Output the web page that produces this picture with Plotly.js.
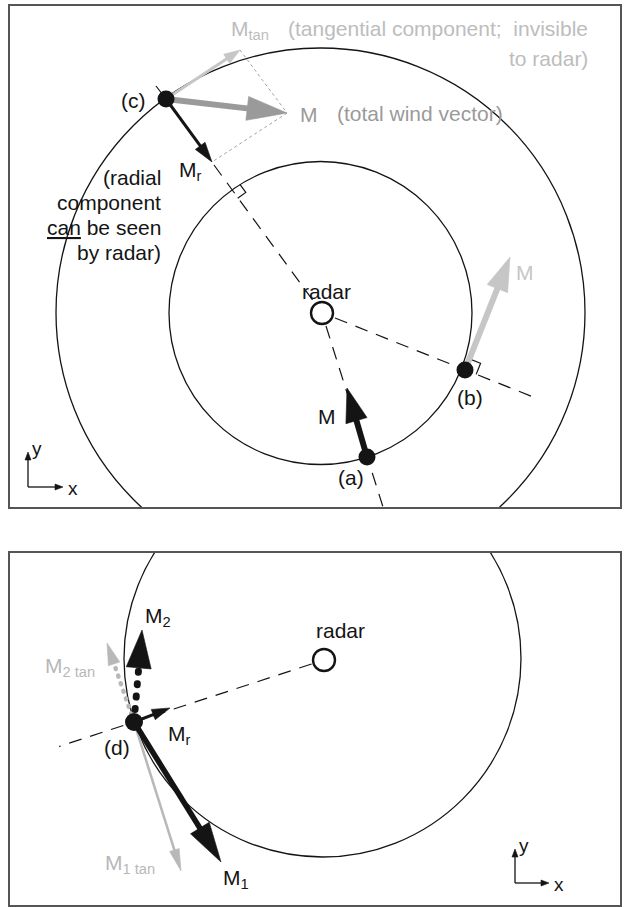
<!DOCTYPE html>
<html><head><meta charset="utf-8">
<script src="https://cdn.plot.ly/plotly-3.0.1.min.js"></script>
<style>html,body{margin:0;padding:0;background:#fff}#chart{width:631px;height:907px}</style>
</head><body><div id="chart"></div>
<script>
// ================= DATA (diagram units = page pixels, y grows downward) =================
// ---- Panel 1 ----
const P1_radar = [322, 313];                    // radar position
const P1_ringInner = [320.5, 313, 151.5];       // cx, cy, radius
const P1_ringOuter = [320.5, 312.5, 264.5];
const P1_siteNames = ['(a)', '(b)', '(c)'];
const P1_siteX = [367, 465, 166];
const P1_siteY = [457, 370, 99];
// vectors [x0, y0, x1, y1]
const P1_vecA_M    = [367, 457, 347, 388];
const P1_vecB_M    = [465, 370, 510, 257];
const P1_vecC_M    = [166, 99, 287, 113];
const P1_vecC_Mr   = [166, 99, 212, 162];
const P1_vecC_Mtan = [166, 99, 240, 50];
// radial (dashed) lines [x0, y0, x1, y1]
const P1_rayC = [214, 165, 314.5, 302.6];
const P1_rayA = [326, 326, 383, 507];
const P1_rayB = [335, 318, 537, 398.5];
const P1_tickC = [156, 86, 166, 99];

// ---- Panel 2 ----
const P2_radar = [324, 660];
const P2_ring = [322.5, 658.5, 198.5];
const P2_siteX = [134];
const P2_siteY = [722];
const P2_ray = [311.6, 664, 59, 746.5];
const P2_vecMr    = [134, 722, 170, 708];
const P2_vecM1    = [134, 722, 221, 862];
const P2_vecM1tan = [134, 722, 181, 871];
const P2_vecM2    = [134, 722, 142, 630];
const P2_vecM2tan = [134, 722, 107, 643];

// axis icons: corner x, corner y, arm length
const P1_icon = [28, 487, 35];
const P2_icon = [515, 883, 34];

// ================= STYLES =================
const BLACK = '#141414', MID = '#9a9a9a', LIGHT = '#c6c6c6', LIGHT2 = '#b8b8b8';
const FONT = 'Liberation Sans, Arial, Helvetica, sans-serif';
const FS = 21;

const traces = [];
const shapes = [];
const annotations = [];

function line(v, ax, color, width, dash) {
  traces.push({type:'scatter', mode:'lines', x:[v[0], v[2]], y:[v[1], v[3]],
    xaxis: ax[0], yaxis: ax[1], hoverinfo:'skip', showlegend:false,
    line:{color:color, width:width, dash:dash || 'solid'}});
}
function poly(xs, ys, ax, color, width) {
  traces.push({type:'scatter', mode:'lines', x:xs, y:ys, xaxis:ax[0], yaxis:ax[1],
    hoverinfo:'skip', showlegend:false, line:{color:color, width:width}});
}
function arrow(v, ax, color, w, hl, hw, dash) {
  const dx = v[2]-v[0], dy = v[3]-v[1], L = Math.hypot(dx, dy), ux = dx/L, uy = dy/L;
  const bx = v[2]-ux*hl, by = v[3]-uy*hl, px = -uy, py = ux;
  const ov = dash ? 0 : 2;
  line([v[0], v[1], bx+ux*ov, by+uy*ov], ax, color, w, dash);
  traces.push({type:'scatter', mode:'lines', xaxis:ax[0], yaxis:ax[1], hoverinfo:'skip', showlegend:false,
    x:[v[2], bx+px*hw/2, bx-px*hw/2, v[2]], y:[v[3], by+py*hw/2, by-py*hw/2, v[3]],
    fill:'toself', fillcolor:color, line:{color:color, width:0.6}});
}
function ring(c, xr, yr, color, width) {
  shapes.push({type:'circle', xref:xr, yref:yr, x0:c[0]-c[2], x1:c[0]+c[2], y0:c[1]-c[2], y1:c[1]+c[2],
    line:{color:color, width:width}, layer:'below'});
}
function dots(xs, ys, ax, size) {
  traces.push({type:'scatter', mode:'markers', x:xs, y:ys, xaxis:ax[0], yaxis:ax[1], hoverinfo:'skip',
    showlegend:false, marker:{color:BLACK, size:size}});
}
function radarMark(p, xr, yr) {
  shapes.push({type:'circle', xref:xr, yref:yr, x0:p[0]-11, x1:p[0]+11, y0:p[1]-11, y1:p[1]+11,
    line:{color:BLACK, width:2.4}, fillcolor:'#fff', layer:'above'});
}
function rightAngle(cx, cy, ux, uy, tx, ty, s, ax) {
  poly([cx+tx*s, cx+tx*s+ux*s, cx+ux*s], [cy+ty*s, cy+ty*s+uy*s, cy+uy*s], ax, BLACK, 1.2);
}
function label(text, x, y, xr, yr, opts) {
  annotations.push(Object.assign({text:text, x:x, y:y, xref:xr, yref:yr, showarrow:false,
    xanchor:'center', yanchor:'middle', font:{family:FONT, size:FS, color:BLACK}}, opts || {}));
}
function icon(ic, ax, xr, yr) {
  const [cx, cy, L] = ic;
  arrow([cx, cy, cx, cy-L], ax, BLACK, 1.3, 8, 6);
  arrow([cx, cy, cx+L, cy], ax, BLACK, 1.3, 8, 6);
  label('y', cx+9, cy-L-4, xr, yr, {font:{family:FONT, size:19, color:BLACK}});
  label('x', cx+L+10, cy+1, xr, yr, {font:{family:FONT, size:19, color:BLACK}});
}

// ================= PANEL 1 =================
const A1 = ['x', 'y'];
ring(P1_ringInner, 'x', 'y', BLACK, 1.3);
ring(P1_ringOuter, 'x', 'y', BLACK, 1.3);
const DASH = '13px,9px';
line(P1_rayC, A1, BLACK, 1.2, DASH);
line(P1_rayA, A1, BLACK, 1.2, DASH);
line(P1_rayB, A1, BLACK, 1.2, DASH);
line(P1_tickC, A1, BLACK, 1.2);
// dotted construction lines
line([P1_vecC_Mtan[2], P1_vecC_Mtan[3], P1_vecC_M[2], P1_vecC_M[3]], A1, '#a0a0a0', 1, '3px,3px');
line([P1_vecC_M[2], P1_vecC_M[3], P1_vecC_Mr[2], P1_vecC_Mr[3]], A1, '#a0a0a0', 1, '3px,3px');
// right angle at (c)-ray / inner ring
(function(){
  const cx = P1_ringInner[0], cy = P1_ringInner[1], r = P1_ringInner[2];
  let dx = P1_siteX[2]-cx, dy = P1_siteY[2]-cy; const L = Math.hypot(dx, dy); dx/=L; dy/=L;
  const ix = cx+dx*r, iy = cy+dy*r;
  rightAngle(ix, iy, -dx, -dy, -dy, dx, 10, A1);
  // right angle at (b)
  let bx = P1_siteX[1]-cx, by = P1_siteY[1]-cy; const Lb = Math.hypot(bx, by); bx/=Lb; by/=Lb;
  rightAngle(P1_siteX[1], P1_siteY[1], bx, by, by, -bx, 12, A1);
})();
arrow(P1_vecC_Mtan, A1, LIGHT, 3, 16, 11);
arrow(P1_vecC_M, A1, MID, 6, 40, 24);
arrow(P1_vecC_Mr, A1, BLACK, 3, 20, 12);
arrow(P1_vecB_M, A1, LIGHT, 6, 34, 22);
arrow(P1_vecA_M, A1, BLACK, 6, 34, 22);
dots(P1_siteX, P1_siteY, A1, 17);
radarMark(P1_radar, 'x', 'y');
icon(P1_icon, A1, 'x', 'y');

label('M<sub>tan</sub>', 229, 30, 'x', 'y', {xanchor:'left', font:{family:FONT, size:FS, color:'#bdbdbd'}});
label('(tangential component;  invisible', 590, 28, 'x', 'y', {xanchor:'right', font:{family:FONT, size:FS, color:'#bdbdbd'}});
label('to radar)', 590, 58, 'x', 'y', {xanchor:'right', font:{family:FONT, size:FS, color:'#bdbdbd'}});
label('(c)', 133, 100, 'x', 'y');
label('M', 309, 114, 'x', 'y', {font:{family:FONT, size:FS, color:MID}});
label('(total wind vector)', 335, 113, 'x', 'y', {xanchor:'left', font:{family:FONT, size:FS, color:MID}});
label('M<sub>r</sub>', 177, 171, 'x', 'y', {xanchor:'left'});
label('(radial', 163, 177, 'x', 'y', {xanchor:'right'});
label('component', 163, 202, 'x', 'y', {xanchor:'right'});
label('<u>can</u> be seen', 163, 227, 'x', 'y', {xanchor:'right'});
label('by radar)', 163, 252, 'x', 'y', {xanchor:'right'});
label('radar', 326, 291, 'x', 'y');
label('M', 525, 272, 'x', 'y', {font:{family:FONT, size:FS, color:LIGHT}});
label(P1_siteNames[1], 470, 397, 'x', 'y');
label('M', 327, 416, 'x', 'y');
label(P1_siteNames[0], 351, 477, 'x', 'y');

// ================= PANEL 2 =================
const A2 = ['x2', 'y2'];
ring(P2_ring, 'x2', 'y2', BLACK, 1.3);
line(P2_ray, A2, BLACK, 1.2, DASH);
arrow(P2_vecM1tan, A2, LIGHT2, 2.5, 22, 10);
arrow(P2_vecM2tan, A2, LIGHT2, 4.5, 22, 12, '1px,7px');
arrow(P2_vecM2, A2, BLACK, 7, 38, 25, '1px,11.5px');
arrow(P2_vecM1, A2, BLACK, 5.5, 40, 22);
arrow(P2_vecMr, A2, BLACK, 3, 18, 11);
dots(P2_siteX, P2_siteY, A2, 18);
radarMark(P2_radar, 'x2', 'y2');
icon(P2_icon, A2, 'x2', 'y2');

label('M<sub>2</sub>', 143, 617, 'x2', 'y2', {xanchor:'left'});
label('radar', 340, 630, 'x2', 'y2');
label('M<sub>2 tan</sub>', 43, 667, 'x2', 'y2', {xanchor:'left', font:{family:FONT, size:FS, color:LIGHT2}});
label('M<sub>r</sub>', 166, 735, 'x2', 'y2', {xanchor:'left'});
label('(d)', 117, 747, 'x2', 'y2');
label('M<sub>1 tan</sub>', 103, 864, 'x2', 'y2', {xanchor:'left', font:{family:FONT, size:FS, color:LIGHT2}});
label('M<sub>1</sub>', 221, 879, 'x2', 'y2', {xanchor:'left'});

// ================= LAYOUT =================
const W = 631, H = 907;
const box1 = [10, 620, 6, 507], box2 = [10, 620, 553, 905];
function xax(b, anchor) {
  return {domain:[b[0]/W, b[1]/W], range:[b[0], b[1]], anchor:anchor, showgrid:false, zeroline:false,
    showticklabels:false, ticks:'', showline:true, mirror:true, linecolor:'#555', linewidth:2, fixedrange:true};
}
function yax(b, anchor) {
  return {domain:[(H-b[3])/H, (H-b[2])/H], range:[b[3], b[2]], anchor:anchor, showgrid:false, zeroline:false,
    showticklabels:false, ticks:'', showline:true, mirror:true, linecolor:'#555', linewidth:2, fixedrange:true};
}
const layout = {
  width:W, height:H, margin:{l:0, r:0, t:0, b:0}, paper_bgcolor:'#fff', plot_bgcolor:'#fff',
  showlegend:false, hovermode:false,
  xaxis:xax(box1, 'y'), yaxis:yax(box1, 'x'),
  xaxis2:xax(box2, 'y2'), yaxis2:yax(box2, 'x2'),
  shapes:shapes, annotations:annotations
};
Plotly.newPlot('chart', traces, layout, {staticPlot:true, displayModeBar:false}).then(function(){
  document.querySelectorAll('path.js-line').forEach(function(p){
    const d = p.style.strokeDasharray || '';
    if (d.indexOf('1px') === 0) p.style.strokeLinecap = 'round';
  });
});
</script></body></html>
